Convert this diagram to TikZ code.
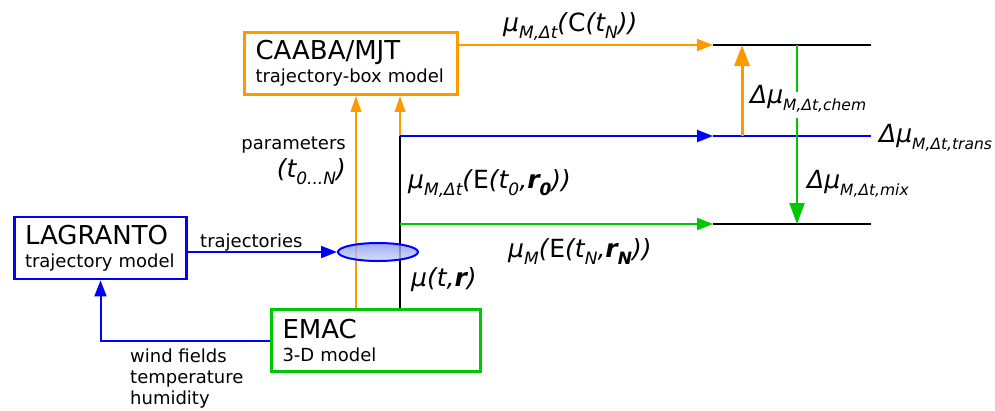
\documentclass[tikz,border=0pt]{standalone}
\usepackage{fontspec}
\setmainfont{DejaVu Sans}
\usetikzlibrary{arrows.meta,shapes.geometric}
\definecolor{cor}{RGB}{255,153,0}
\definecolor{cbl}{RGB}{0,0,255}
\definecolor{cgr}{RGB}{0,200,0}
\definecolor{celtop}{RGB}{135,150,240}
\definecolor{celbot}{RGB}{205,214,250}
\newcommand{\lsub}[1]{\raisebox{-7pt}{\fontsize{17}{17}\selectfont #1}}
\newcommand{\ssub}[1]{\raisebox{-7pt}{\fontsize{15.5}{16}\selectfont #1}}
\begin{document}
\begin{tikzpicture}[x=1pt,y=-1pt,
  box/.style={draw, line width=2.8pt, fill=white, inner xsep=11pt, inner ysep=0pt, align=left, minimum height=62pt, font=\fontsize{18}{23}\selectfont},
  lbl/.style={inner sep=0pt, anchor=base west, font=\fontsize{25}{28}\selectfont\itshape},
  small/.style={inner sep=0pt, anchor=base west, font=\fontsize{18}{21}\selectfont},
  conn/.style={line width=2pt},
  tip/.style={-{Triangle[length=16pt,width=12pt]}},
  uptip/.style={-{Triangle[length=16pt,width=10.5pt]}},
  bigtip/.style={-{Triangle[length=21pt,width=15pt]}},
  level/.style={line width=2.6pt}
]
\useasboundingbox (0,0) rectangle (995,410);

% boxes
\node[box, draw=cor, text width=191pt] (caaba) at (351,63.5) {{\fontsize{26}{26}\selectfont CAABA/MJT}\\trajectory-box model};
\node[box, draw=cbl, text width=151pt, inner xsep=10.5pt] (lag) at (100.5,248) {{\fontsize{26}{26}\selectfont LAGRANTO}\\trajectory model};
\node[box, draw=cgr, text width=187pt] (emac) at (376,340.5) {{\fontsize{26}{26}\selectfont EMAC}\\3-D model};

% helper coordinates
\coordinate (j1) at (400,136);
\coordinate (j2) at (400,224);
\coordinate (xo) at (356,0);
\coordinate (L1a) at (713,45);
\coordinate (L1b) at (871,45);
\coordinate (L2a) at (713,136);
\coordinate (L2b) at (871,136);
\coordinate (L3a) at (713,224);
\coordinate (L3b) at (871,224);
\coordinate (ox) at (742,0);
\coordinate (gx) at (797,0);
\coordinate (g1) at (797,92);
\coordinate (g2) at (797,118);

% vertical connectors
\draw[conn, cor, uptip] (emac.north -| xo) -- (caaba.south -| xo);
\draw[conn, black] (emac.north -| j1) -- (j1);
\draw[conn, cor, uptip] (j1) -- (caaba.south -| j1);

% horizontal connectors
\draw[conn, cor, tip] (caaba.east |- L1a) -- (L1a);
\draw[conn, cbl, tip] (j1) -- (L2a);
\draw[conn, cgr, tip] (j2) -- (L3a);

% ellipse
\node[ellipse, draw=cbl, line width=2pt, top color=celtop, bottom color=celbot, fill opacity=0.8, minimum width=80pt, minimum height=18pt, inner sep=0pt] (ell) at (378,252) {};
\draw[conn, cbl, tip] (lag.east |- ell) -- (ell.west);
\draw[conn, cbl, tip] (emac.west) -| (lag.south);

% levels
\draw[level, black] (L1a) -- (L1b);
\draw[level, cbl] (L2a) -- (L2b);
\draw[level, black] (L3a) -- (L3b);
\draw[line width=3pt, cor, bigtip] (L2a -| ox) -- (L1a -| ox);
\draw[conn, cgr] (L1a -| gx) -- (g1);
\draw[conn, cgr, bigtip] (g2) -- (L3a -| gx);

% labels
\node[lbl] (lC) at (503,31) {μ\lsub{M,Δt}(\textup{C}(t\lsub{N}))};
\node[lbl] (lE) at (408,188) {μ\lsub{M,Δt}(\textup{E}(t\lsub{0},\textbf{r}\lsub{\textbf{0}}))};
\node[lbl] (lN) at (508,257) {μ\lsub{M}(\textup{E}(t\lsub{N},\textbf{r}\lsub{\textbf{N}}))};
\node[lbl] (lmu) at (411,286) {μ(t,\textbf{r})};
\node[small, anchor=base east] (lpar) at (346,149) {parameters};
\node[lbl, anchor=base east] (lt) at (346,177) {(t\lsub{0...N})};
\node[small] (ltr) at (200,247) {trajectories};
\node[small] (lw1) at (130,362) {wind fields};
\node[small] (lw2) at (130,383) {temperature};
\node[small] (lw3) at (130,404) {humidity};
\node[lbl] (dchem) at (750,103) {Δμ\ssub{M,Δt,chem}};
\node[lbl] (dtrans) at (879,142) {Δμ\ssub{M,Δt,trans}};
\node[lbl] (dmix) at (807,188) {Δμ\ssub{M,Δt,mix}};
\end{tikzpicture}
\end{document}
